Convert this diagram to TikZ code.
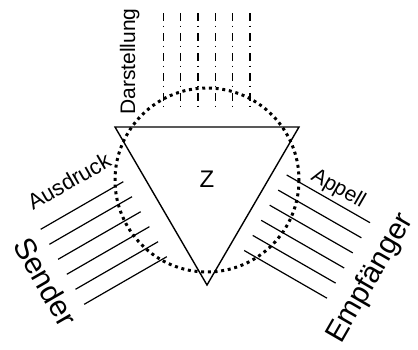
\documentclass[tikz,border=0pt]{standalone}
\usepackage{fontspec}
\setmainfont{Liberation Sans}
\begin{document}
\begin{tikzpicture}[x=1pt,y=-1pt,
  lbl/.style={inner sep=0pt, font=\fontsize{21}{25}\selectfont},
  big/.style={inner sep=0pt, font=\fontsize{30}{36}\selectfont},
  tri/.style={line width=1.4pt, line join=miter},
  ray/.style={line width=1.2pt},
  dray/.style={line width=1.4pt, dash pattern=on 7.5pt off 5pt on 1.5pt off 6pt},
  dots/.style={line width=3pt, dash pattern=on 3pt off 3.7pt}]
\useasboundingbox (0,0) rectangle (418,349);
% triangle
\coordinate (tl) at (115,127);
\coordinate (tr) at (299,127);
\coordinate (bt) at (207,285);
\coordinate (c) at (207,180);
\draw[tri] (tl) -- (tr) -- (bt) -- cycle;
% Darstellung rays
\foreach \k in {0,...,5}{
  \draw[dray] (163.3+17.35*\k,13) -- (163.3+17.35*\k,108);
}
% Ausdruck rays
\foreach \k in {0,...,5}{
  \draw[ray] (40.7+8.7*\k,229.3+15*\k) -- (123.3+8.7*\k,181.7+15*\k);
}
% Appell rays
\foreach \k in {0,...,5}{
  \draw[ray] (286.7-8.5*\k,175+15.1*\k) -- (370-8.6*\k,222.7+15.1*\k);
}
% dotted circle
\draw[dots] (c) circle[radius=92];
% labels
\node[lbl, rotate=90, anchor=base west] (dar) at (135,115) {Darstellung};
\node[lbl, font=\fontsize{22}{26}\selectfont, rotate=30, anchor=base west] (aus) at (33,211) {Ausdruck};
\node[lbl, rotate=-30, anchor=base west] (app) at (310,179) {Appell};
\node[big, rotate=-60, anchor=base west] (sen) at (12,245) {Sender};
\node[big, font=\fontsize{29.5}{35}\selectfont, rotate=60, anchor=base west] (emp) at (341,345) {Empfänger};
\node[inner sep=0pt, font=\fontsize{24}{28}\selectfont] (z) at (207,179) {Z};
\end{tikzpicture}
\end{document}
